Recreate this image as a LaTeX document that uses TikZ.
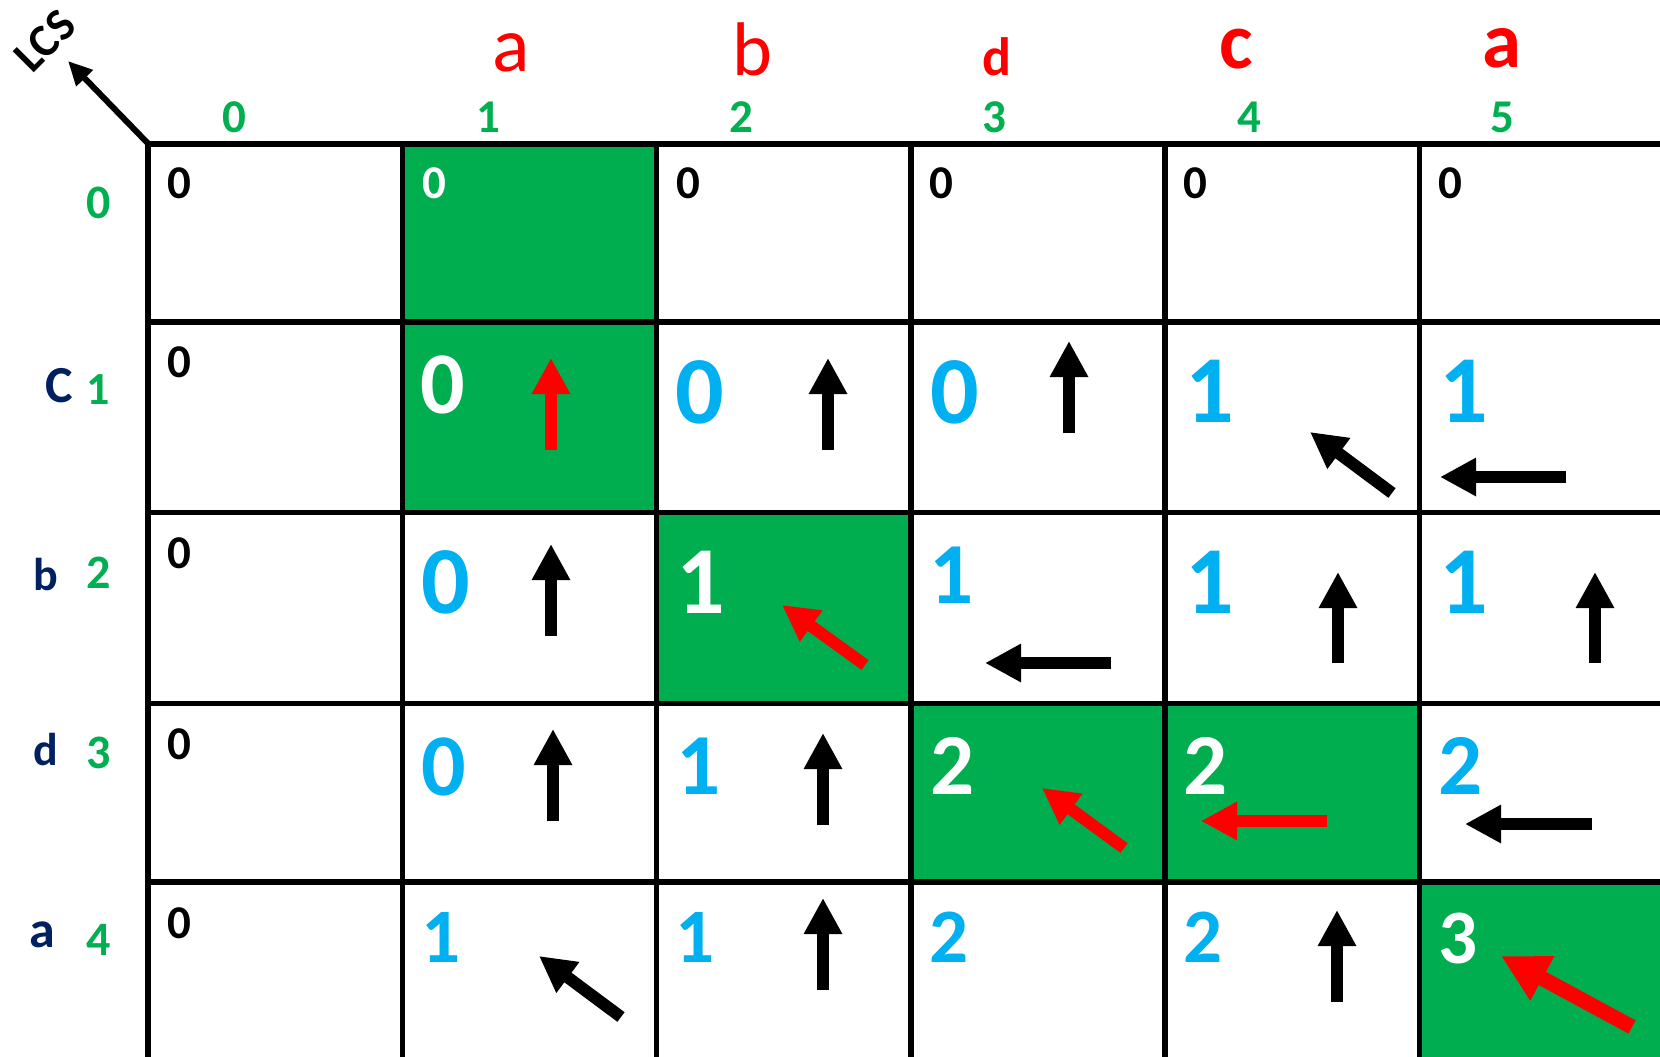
\documentclass[tikz,border=0pt]{standalone}
\usepackage{fontspec}
\setmainfont{Carlito}
\usetikzlibrary{arrows.meta}
\definecolor{cgreen}{HTML}{00AD4F}
\definecolor{tgreen}{HTML}{00B050}
\definecolor{cblue}{HTML}{00B0F0}
\definecolor{cnavy}{HTML}{002060}
\definecolor{cred}{HTML}{FF0000}
\newcommand{\fsz}[1]{\fontsize{#1}{#1}\selectfont}
\tikzset{
  gridline/.style={line width=5.2pt, black},
  greencell/.style={fill=cgreen, draw=none},
  num/.style={inner sep=0pt, anchor=base, font=\bfseries},
  hdr/.style={inner sep=0pt, anchor=base},
  arr/.style={line width=12pt, -{Triangle[length=36pt,width=36pt]}},
  bigarr/.style={line width=15pt, -{Triangle[length=47pt,width=47pt]}},
}
\begin{document}
\begin{tikzpicture}[x=1pt,y=-1pt]
\useasboundingbox (0,0) rectangle (1660,1057);
\fill[white] (0,0) rectangle (1660,1057);
% green cells
\fill[greencell] (402.5,144) rectangle (656.3,322);
\fill[greencell] (402.5,322) rectangle (656.3,512.5);
\fill[greencell] (656.3,512.5) rectangle (911,703.5);
\fill[greencell] (911,703.5) rectangle (1165,882);
\fill[greencell] (1165,703.5) rectangle (1419.5,882);
\fill[greencell] (1419.5,882) rectangle (1660,1057);
% grid
\foreach \yy in {144,322,512.5,703.5,882} \draw[gridline] (148,\yy) -- (1660,\yy);
\foreach \xx in {148,402.5,656.3,911,1165,1419.5} \draw[gridline] (\xx,144) -- (\xx,1057);
% LCS corner
\coordinate (corner) at (148.5,144);
\coordinate (lcstip) at (68,61);
\draw[line width=6pt, -{Triangle[length=24pt,width=22pt]}] (corner) -- (lcstip);
\node[inner sep=0pt, rotate=45, font=\bfseries\fsz{46}] (lcs) at (45,41) {LCS};
% column header letters
\node[hdr, text=cred, font=\fsz{78}] (ha1) at (511,72) {a};
\node[hdr, text=cred, font=\fsz{76}] (hb) at (752,75) {b};
\node[hdr, text=cred, font=\bfseries\fsz{54}] (hd) at (997,75) {d};
\node[hdr, text=cred, font=\bfseries\fsz{80}] (hc) at (1236,69) {c};
\node[hdr, text=cred, font=\bfseries\fsz{79}] (ha2) at (1502,68) {a};
% column indices
\foreach \xx/\t in {234/0,488/1,741/2,994/3,1249/4,1502/5}
  \node[hdr, text=tgreen, font=\bfseries\fsz{47}] (ci\t) at (\xx,132) {\t};
% row labels
\node[hdr, text=tgreen, font=\bfseries\fsz{48}] (ri0) at (99,218) {0};
\node[hdr, text=cnavy, font=\bfseries\fsz{52}] (rlC) at (59,402) {C};
\node[hdr, text=tgreen, font=\bfseries\fsz{46}] (ri1) at (98.5,404) {1};
\node[hdr, text=cnavy, font=\bfseries\fsz{46}] (rlb) at (46,590) {b};
\node[hdr, text=tgreen, font=\bfseries\fsz{48}] (ri2) at (98.5,588) {2};
\node[hdr, text=cnavy, font=\bfseries\fsz{46}] (rld) at (45.5,765) {d};
\node[hdr, text=tgreen, font=\bfseries\fsz{48}] (ri3) at (98.5,768) {3};
\node[hdr, text=cnavy, font=\bfseries\fsz{52}] (rla) at (42,947) {a};
\node[hdr, text=tgreen, font=\bfseries\fsz{48}] (ri4) at (98.5,955) {4};
% row 0
\node[num, font=\bfseries\fsz{47}] (c00) at (179.5,198) {0};
\node[num, text=white, font=\bfseries\fsz{47}] (c01) at (434,198) {0};
\node[num, font=\bfseries\fsz{47}] (c02) at (688,198) {0};
\node[num, font=\bfseries\fsz{47}] (c03) at (941,198) {0};
\node[num, font=\bfseries\fsz{47}] (c04) at (1195,198) {0};
\node[num, font=\bfseries\fsz{47}] (c05) at (1450,198) {0};
% column 0 zeros
\node[num, font=\bfseries\fsz{47}] (c10) at (179.5,377) {0};
\node[num, font=\bfseries\fsz{47}] (c20) at (179.5,568) {0};
\node[num, font=\bfseries\fsz{47}] (c30) at (179.5,759) {0};
\node[num, font=\bfseries\fsz{47}] (c40) at (179.5,938) {0};
% row 1
\node[num, text=white, font=\bfseries\fsz{88}] (c11) at (443,413) {0};
\node[num, text=cblue, font=\bfseries\fsz{96}] (c12) at (700,423) {0};
\node[num, text=cblue, font=\bfseries\fsz{96}] (c13) at (955,423) {0};
\node[num, text=cblue, font=\bfseries\fsz{96}] (c14) at (1210,422) {1};
\node[num, text=cblue, font=\bfseries\fsz{96}] (c15) at (1464,422) {1};
% row 2
\node[num, text=cblue, font=\bfseries\fsz{96}] (c21) at (445.5,613) {0};
\node[num, text=white, font=\bfseries\fsz{96}] (c22) at (701,613) {1};
\node[num, text=cblue, font=\bfseries\fsz{87}] (c23) at (952,603) {1};
\node[num, text=cblue, font=\bfseries\fsz{96}] (c24) at (1210,613) {1};
\node[num, text=cblue, font=\bfseries\fsz{96}] (c25) at (1464,613) {1};
% row 3
\node[num, text=cblue, font=\bfseries\fsz{88}] (c31) at (443.5,795) {0};
\node[num, text=cblue, font=\bfseries\fsz{87}] (c32) at (698.5,794) {1};
\node[num, text=white, font=\bfseries\fsz{87}] (c33) at (952.5,794) {2};
\node[num, text=white, font=\bfseries\fsz{87}] (c34) at (1205.5,794) {2};
\node[num, text=cblue, font=\bfseries\fsz{87}] (c35) at (1460.5,794) {2};
% row 4
\node[num, text=cblue, font=\bfseries\fsz{77}] (c41) at (441,962) {1};
\node[num, text=cblue, font=\bfseries\fsz{77}] (c42) at (695.5,962) {1};
\node[num, text=cblue, font=\bfseries\fsz{77}] (c43) at (949,962) {2};
\node[num, text=cblue, font=\bfseries\fsz{77}] (c44) at (1203,962) {2};
\node[num, text=white, font=\bfseries\fsz{77}] (c45) at (1457.5,963) {3};
% arrows
\draw[arr, cred] (551,450) -- (551,358);
\draw[arr] (828,450) -- (828,358);
\draw[arr] (1069,433) -- (1069,341);
\draw[arr] (1392,493) -- (1310,432);
\draw[arr] (1566,477) -- (1440,477);
\draw[arr] (551,636) -- (551,544);
\draw[arr, cred] (865,665) -- (782,605);
\draw[arr] (1111,663) -- (985,663);
\draw[arr] (1338,663) -- (1338,572);
\draw[arr] (1595,663) -- (1595,572);
\draw[arr] (553,821) -- (553,729);
\draw[arr] (823,825) -- (823,733);
\draw[arr, cred] (1124,848) -- (1042,788);
\draw[arr, cred] (1327,821) -- (1201,821);
\draw[arr] (1592,824) -- (1465,824);
\draw[arr] (621,1017) -- (539,956);
\draw[arr] (823,990) -- (823,898);
\draw[arr] (1337,1002) -- (1337,910);
\draw[bigarr, cred] (1632,1027) -- (1501,956);
\end{tikzpicture}
\end{document}
